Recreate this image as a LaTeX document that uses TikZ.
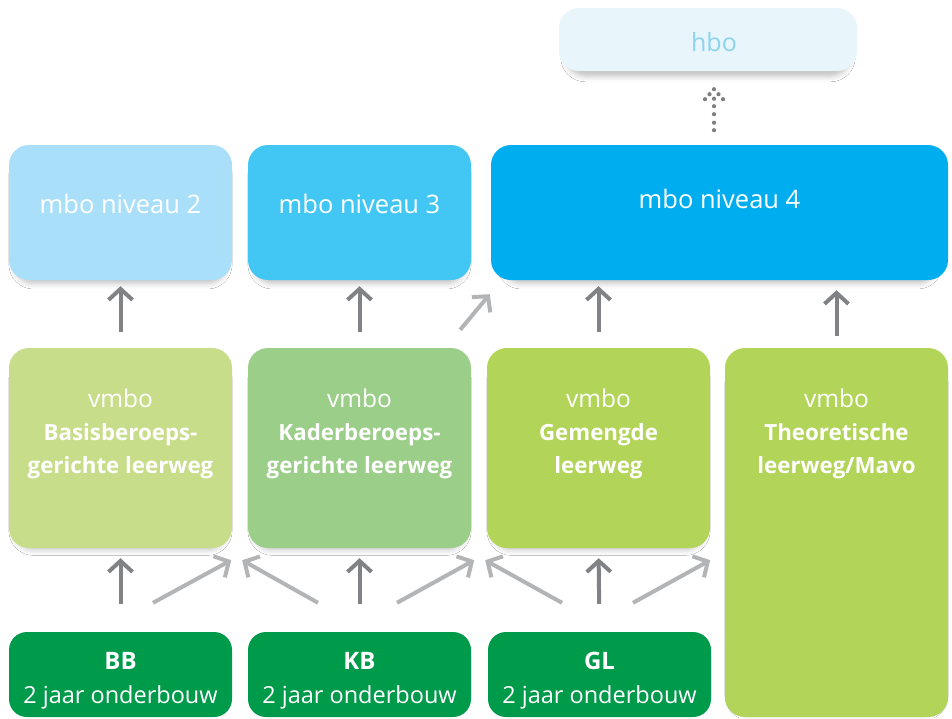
\documentclass[tikz,border=0pt]{standalone}
\usepackage{fontspec}
\setmainfont{Open Sans}
\usetikzlibrary{arrows.meta,shadows.blur}
\definecolor{hbofill}{HTML}{E8F5FB}
\definecolor{hbotext}{HTML}{8BD3EF}
\definecolor{mbotwo}{HTML}{AADFF9}
\definecolor{mbothree}{HTML}{42C6F4}
\definecolor{mbofour}{HTML}{00AEEF}
\definecolor{vbbcol}{HTML}{C8DD8A}
\definecolor{vkbcol}{HTML}{9BCE89}
\definecolor{vglcol}{HTML}{B2D459}
\definecolor{onderbouw}{HTML}{009A4B}
\definecolor{darkarrow}{HTML}{818286}
\definecolor{lightarrow}{HTML}{B3B4B6}
\definecolor{dotcol}{HTML}{7F7F7F}
\tikzset{
  box/.style={rounded corners=20pt, inner sep=0pt, draw=none,
    blur shadow={shadow xshift=0pt, shadow yshift=-7pt, shadow blur radius=6pt, shadow opacity=25, shadow scale=0.95}},
  flatbox/.style={rounded corners=18pt, inner sep=0pt, draw=none},
  boxtext/.style={text=white, inner sep=0pt, align=center},
  darr/.style={draw=darkarrow, line width=4pt, -{Straight Barb[length=11pt,width=24pt]}},
  larr/.style={draw=lightarrow, line width=4pt, -{Straight Barb[length=11pt,width=24pt]}},
}
\begin{document}
\begin{tikzpicture}[x=1pt,y=-1pt]
\useasboundingbox (0,0) rectangle (952,718);
\fill[white] (0,0) rectangle (952,718);

% hbo
\node[box, fill=hbofill, minimum width=298pt, minimum height=63pt] (hbo) at (708,39.5) {};
\node[anchor=base, inner sep=0pt, text=hbotext, font=\fontsize{25}{30}\selectfont] (hbot) at (714,51) {hbo};

% mbo
\node[box, fill=mbotwo, minimum width=223pt, minimum height=135pt] (mbo2) at (120.5,212.5) {};
\node[box, fill=mbothree, minimum width=223pt, minimum height=135pt] (mbo3) at (359.5,212.5) {};
\node[box, fill=mbofour, minimum width=457pt, minimum height=135pt] (mbo4) at (719.5,212.5) {};
\tikzset{mtext/.style={boxtext, anchor=base, font=\fontsize{25.5}{30}\selectfont}}
\node[mtext] (mbo2t) at (120.5,213) {mbo niveau 2};
\node[mtext] (mbo3t) at (359.5,213) {mbo niveau 3};
\node[mtext] (mbo4t) at (719.5,208) {mbo niveau 4};

% vmbo
\node[box, fill=vbbcol, minimum width=223pt, minimum height=200pt] (vbb) at (120.5,448) {};
\node[box, fill=vkbcol, minimum width=223pt, minimum height=200pt] (vkb) at (359.5,448) {};
\node[box, fill=vglcol, minimum width=223pt, minimum height=200pt] (vgl) at (598.5,448) {};
\node[box, fill=vglcol, minimum width=223pt, minimum height=369pt] (vtl) at (836.5,532.5) {};

\tikzset{vtext/.style={boxtext, anchor=north, font=\fontsize{22.3}{33}\selectfont}}
\node[vtext] (vbbt) at (120.5,389) {{\fontsize{24.5}{33}\selectfont vmbo}\\ \textbf{Basisberoeps-}\\ \textbf{gerichte leerweg}};
\node[vtext] (vkbt) at (359.5,389) {{\fontsize{24.5}{33}\selectfont vmbo}\\ \textbf{Kaderberoeps-}\\ \textbf{gerichte leerweg}};
\node[vtext] (vglt) at (598.5,389) {{\fontsize{24.5}{33}\selectfont vmbo}\\ \textbf{Gemengde}\\ \textbf{leerweg}};
\node[vtext] (vtlt) at (836.5,389) {{\fontsize{24.5}{33}\selectfont vmbo}\\ \textbf{Theoretische}\\ \textbf{leerweg/Mavo}};

% onderbouw
\node[flatbox, fill=onderbouw, minimum width=223pt, minimum height=85pt] (bb) at (120.5,674.5) {};
\node[flatbox, fill=onderbouw, minimum width=223pt, minimum height=85pt] (kb) at (359.5,674.5) {};
\node[flatbox, fill=onderbouw, minimum width=223pt, minimum height=85pt] (gl) at (599.5,674.5) {};
\tikzset{otext/.style={boxtext, anchor=base}}
\node[otext, font=\bfseries\fontsize{24}{30}\selectfont] (bbt) at (120.5,669) {BB};
\node[otext, font=\fontsize{23.5}{30}\selectfont] (bbs) at (120.5,703) {2 jaar onderbouw};
\node[otext, font=\bfseries\fontsize{24}{30}\selectfont] (kbt) at (359.5,669) {KB};
\node[otext, font=\fontsize{23.5}{30}\selectfont] (kbs) at (359.5,703) {2 jaar onderbouw};
\node[otext, font=\bfseries\fontsize{24}{30}\selectfont] (glt) at (599.5,669) {GL};
\node[otext, font=\fontsize{23.5}{30}\selectfont] (gls) at (599.5,703) {2 jaar onderbouw};

% arrows vmbo -> mbo
\draw[darr, shorten <=16pt, shorten >=6pt] (vbb.north) -- (mbo2.south);
\draw[darr, shorten <=16pt, shorten >=6pt] (vkb.north) -- (mbo3.south);
\draw[darr, shorten <=16pt, shorten >=6pt] (vgl.north) -- (vgl.north |- mbo4.south);
\draw[darr, shorten <=12pt, shorten >=10pt] (vtl.north) -- (vtl.north |- mbo4.south);
\draw[larr] ([xshift=-11pt,yshift=18pt]vkb.north east) -- ([xshift=-1pt,yshift=-14pt]mbo4.south west);

% arrows onderbouw -> vmbo
\draw[darr, shorten <=28pt, shorten >=10pt] (bb.north) -- (vbb.south);
\draw[darr, shorten <=28pt, shorten >=10pt] (kb.north) -- (vkb.south);
\draw[darr, shorten <=28pt, shorten >=10pt] (gl.north) -- (vgl.south);
\draw[larr] ([xshift=32.5pt,yshift=29pt]bb.north) -- ([xshift=-1pt,yshift=-12pt]vbb.south east);
\draw[larr] ([xshift=-41.5pt,yshift=29pt]kb.north) -- ([xshift=10pt,yshift=-12pt]vbb.south east);
\draw[larr] ([xshift=37.5pt,yshift=29pt]kb.north) -- ([xshift=3pt,yshift=-12pt]vkb.south east);
\draw[larr] ([xshift=-37.5pt,yshift=29pt]gl.north) -- ([xshift=14pt,yshift=-12pt]vkb.south east);
\draw[larr] ([xshift=33.5pt,yshift=29pt]gl.north) -- ([xshift=0pt,yshift=-12pt]vgl.south east);

% dotted arrow mbo4 -> hbo
\coordinate (dtip) at ([yshift=-18pt]hbo.south -| hbot.base);
\foreach \dx/\dy in {0/0, -4.5/5, 4.5/5, -9/10, 0/9.5, 9/10, 0/17, 0/25, 0/33.5, 0/41}
  \fill[dotcol] ([xshift=\dx pt, yshift=-\dy pt]dtip) circle (2.1pt);
\end{tikzpicture}
\end{document}
